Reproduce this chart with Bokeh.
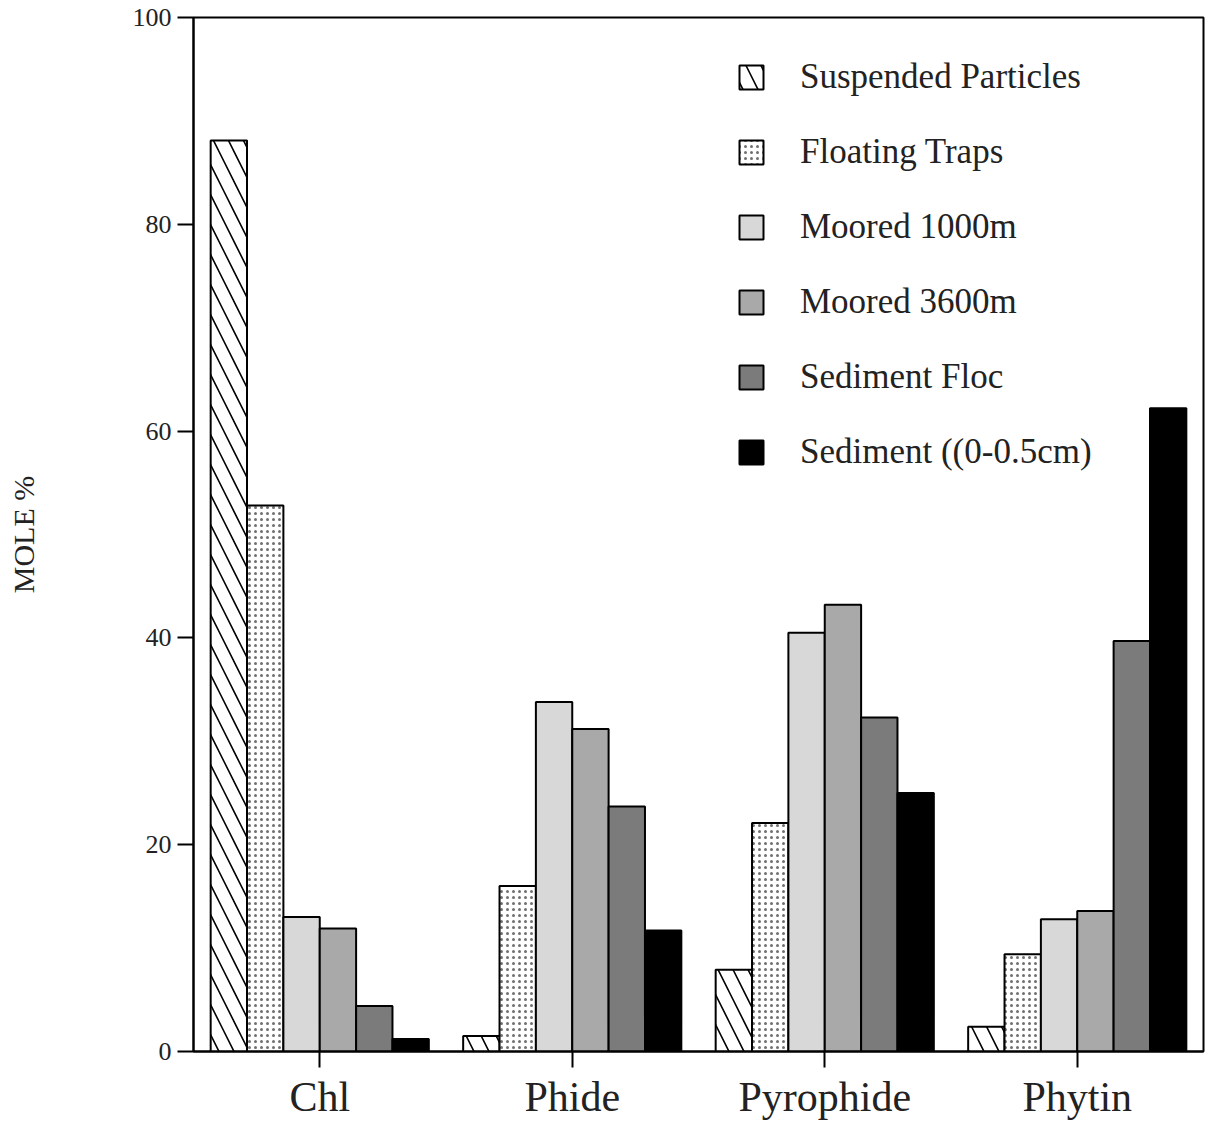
from bokeh.plotting import figure
from bokeh.models import ColumnDataSource, FactorRange, Legend, LegendItem, FixedTicker
from bokeh.transform import dodge
from bokeh.embed import file_html
from bokeh.resources import INLINE

categories = ["Chl", "Phide", "Pyrophide", "Phytin"]
series_names = ["Suspended Particles", "Floating Traps", "Moored 1000m",
                "Moored 3600m", "Sediment Floc", "Sediment ((0-0.5cm)"]
suspended = [88.1, 1.5, 7.9, 2.4]
floating = [52.8, 16.0, 22.1, 9.4]
moored1000 = [13.0, 33.8, 40.5, 12.8]
moored3600 = [11.9, 31.2, 43.2, 13.6]
sed_floc = [4.4, 23.7, 32.3, 39.7]
sediment = [1.2, 11.7, 25.0, 62.2]
y_ticks = [0, 20, 40, 60, 80, 100]

series = [suspended, floating, moored1000, moored3600, sed_floc, sediment]
keys = ["s0", "s1", "s2", "s3", "s4", "s5"]
data = {"cat": categories}
for k, v in zip(keys, series):
    data[k] = v
src = ColumnDataSource(data)

FONT = "Liberation Serif"
styles = [
    dict(fill_color="white", hatch_pattern="left_diagonal_line", hatch_color="black", hatch_scale=30, hatch_weight=1.6),
    dict(fill_color="white", hatch_pattern="dot", hatch_color="#707070", hatch_scale=6, hatch_weight=1.5),
    dict(fill_color="#d8d8d8"),
    dict(fill_color="#a9a9a9"),
    dict(fill_color="#7b7b7b"),
    dict(fill_color="black"),
]

p = figure(x_range=FactorRange(*categories, range_padding=0, factor_padding=0),
           y_range=(0, 100), width=1205, height=1126,
           output_backend="svg", toolbar_location=None,
           min_border_left=193, min_border_right=2, min_border_top=17, min_border_bottom=75)
p.x_range.range_padding = 0

bw = 0.144
items = []
for i, (k, st) in enumerate(zip(keys, styles)):
    r = p.vbar(x=dodge("cat", (i - 2.5) * bw, range=p.x_range), top=k, width=bw,
               source=src, line_color="black", line_width=2, **st)
    items.append(LegendItem(label=series_names[i], renderers=[r]))

legend = Legend(items=items, location=(543, 579), border_line_color=None,
                background_fill_alpha=0, padding=0, margin=0,
                glyph_width=30, glyph_height=30, label_height=30, spacing=35,
                label_standoff=34, label_text_font=FONT, label_text_font_size="35px",
                label_text_color="#222222")
p.add_layout(legend, "center")

p.xgrid.grid_line_color = None
p.ygrid.grid_line_color = None
p.outline_line_color = "black"
p.outline_line_width = 2
p.background_fill_color = "white"
p.border_fill_color = "white"

p.yaxis.ticker = FixedTicker(ticks=y_ticks)
p.yaxis.minor_tick_line_color = None
p.yaxis.major_tick_out = 16
p.yaxis.major_tick_in = 0
p.yaxis.major_tick_line_width = 2
p.yaxis.axis_line_width = 2
p.yaxis.major_label_text_font = FONT
p.yaxis.major_label_text_font_size = "26px"
p.yaxis.major_label_text_color = "#222222"
p.yaxis.major_label_standoff = 6
p.yaxis.axis_label = "MOLE %"
p.yaxis.axis_label_text_font = FONT
p.yaxis.axis_label_text_font_style = "normal"
p.yaxis.axis_label_text_font_size = "30px"
p.yaxis.axis_label_text_color = "#222222"
p.yaxis.axis_label_standoff = 90

p.xaxis.major_tick_out = 16
p.xaxis.major_tick_in = 0
p.xaxis.major_tick_line_width = 2
p.xaxis.axis_line_width = 2
p.xaxis.major_label_text_font = FONT
p.xaxis.major_label_text_font_size = "42px"
p.xaxis.major_label_text_color = "#222222"
p.xaxis.major_label_standoff = 6

open("out.html", "w").write(file_html(p, INLINE))
